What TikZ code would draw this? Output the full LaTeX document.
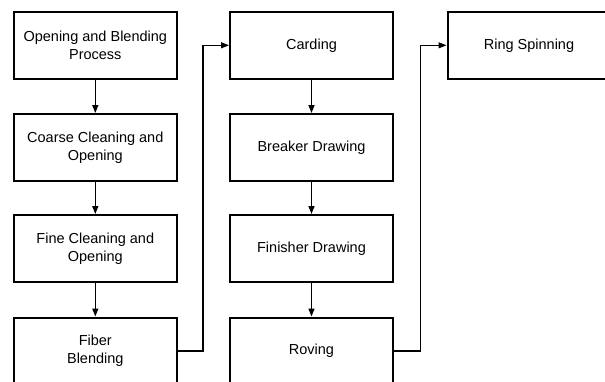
\documentclass[tikz,border=0pt]{standalone}
\usepackage{fontspec}
\setmainfont{Liberation Sans}
\usetikzlibrary{arrows.meta}
\begin{document}
\begin{tikzpicture}[x=1pt,y=-1pt,
  procbox/.style={draw=black, line width=2pt, minimum width=163pt, minimum height=67pt,
    align=center, inner sep=2pt, font=\fontsize{14.5pt}{18pt}\selectfont},
  flow/.style={line width=1.4pt, -{Triangle[length=8pt,width=6pt]}},
  link/.style={line width=1.3pt, -{Triangle[length=8pt,width=6pt]}}]
\useasboundingbox (0,0) rectangle (605,381);
\clip (0,0) rectangle (605,381);
\node[procbox] (a1) at (95.3,45.3) {Opening and Blending\\Process};
\node[procbox] (a2) at (95.3,147.5) {Coarse Cleaning and\\Opening};
\node[procbox] (a3) at (95.3,248.5) {Fine Cleaning and\\Opening};
\node[procbox] (a4) at (95.3,351) {Fiber\\Blending};
\node[procbox] (b1) at (311.5,45.3) {Carding};
\node[procbox] (b2) at (311.5,147.5) {Breaker Drawing};
\node[procbox] (b3) at (311.5,248.5) {Finisher Drawing};
\node[procbox] (b4) at (311.5,351) {Roving};
\node[procbox] (c1) at (529,45.3) {Ring Spinning};
\draw[flow] (a1) -- (a2);
\draw[flow] (a2) -- (a3);
\draw[flow] (a3) -- (a4);
\draw[flow] (b1) -- (b2);
\draw[flow] (b2) -- (b3);
\draw[flow] (b3) -- (b4);
\draw[link] (a4.east) -- (203,351) |- (b1.west);
\draw[link] (b4.east) -- (420.5,351) |- (c1.west);
\end{tikzpicture}
\end{document}
